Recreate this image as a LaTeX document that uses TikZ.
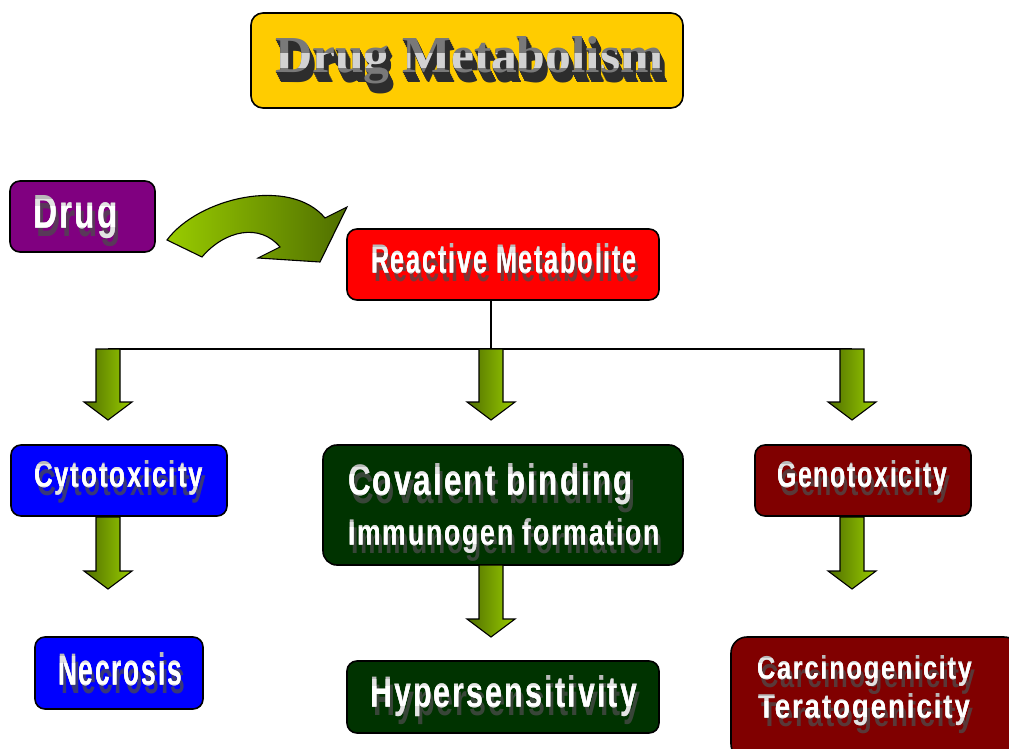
\documentclass[tikz,border=0pt]{standalone}
\usepackage{fontspec}
\setmainfont{Liberation Sans}
\newfontfamily\lblfont[LetterSpace=7]{Liberation Sans}
\newfontfamily\titlefont{Liberation Serif}
\usepackage{graphicx}
\usetikzlibrary{calc}
\definecolor{ttl}{HTML}{FFCC00}
\definecolor{purp}{HTML}{800080}
\definecolor{rred}{HTML}{FF0000}
\definecolor{bblue}{HTML}{0000FF}
\definecolor{dgreen}{HTML}{003300}
\definecolor{dred}{HTML}{800000}
\definecolor{gdark}{HTML}{4F6E00}
\definecolor{glight}{HTML}{99CC00}
\tikzset{
  box/.style={draw=black, line width=1.6pt, rounded corners=10pt, inner sep=0pt, outer sep=0pt},
  txt/.style={inner sep=0pt, outer sep=0pt, anchor=base west, font=\lblfont\bfseries},
  shad/.style={txt, text=black!70, text opacity=0.75},
  conn/.style={draw=black, line width=1.3pt},
  garrow/.style={draw=black, line width=1.1pt, left color=gdark, right color=glight},
  carrow/.style={draw=black, line width=1.1pt, left color=glight, right color=gdark},
}
% \lbl{name}{left x}{top y}{width}{height}{text}
\newcommand\lbl[6]{%
  \node[shad] (#1s) at ({#2+3},{#3+#5+8}) {\resizebox{#4pt}{#5pt}{#6}};
  \node[txt, text=gray!55] (#1) at (#2,{#3+#5}) {\resizebox{#4pt}{#5pt}{#6}};
  \begin{scope}
    \clip ({#2-5},{#3+0.15*#5}) rectangle ({#2+#4+5},{#3+1.4*#5});
    \node[txt, text=gray!22] (#1b) at (#2,{#3+#5}) {\resizebox{#4pt}{#5pt}{#6}};
  \end{scope}
  \begin{scope}
    \clip ({#2-5},{#3+0.35*#5}) rectangle ({#2+#4+5},{#3+0.95*#5});
    \node[txt, text=white] (#1c) at (#2,{#3+#5}) {\resizebox{#4pt}{#5pt}{#6}};
  \end{scope}
}
% \garr{x}{ytop}{ybottom}
\newcommand\garr[3]{%
  \path[garrow] ({#1-12},#2) -- ({#1+12},#2) -- ({#1+12},{#3-18}) -- ({#1+24},{#3-18})
    -- (#1,#3) -- ({#1-24},{#3-18}) -- ({#1-12},{#3-18}) -- cycle;
}
\begin{document}
\begin{tikzpicture}[x=1pt,y=-1pt]
\path[use as bounding box] (0,0) rectangle (1009,749);
\clip (0,0) rectangle (1009,749);

% boxes
\node[box, fill=ttl, minimum width=432pt, minimum height=95pt, rounded corners=12pt] (title) at (467,60.5) {};
\node[box, fill=purp, minimum width=145pt, minimum height=71pt] (drug) at (82.5,216.5) {};
\node[box, fill=rred, minimum width=312pt, minimum height=71pt] (rm) at (503,264.5) {};
\node[box, fill=bblue, minimum width=216pt, minimum height=71pt] (cyto) at (119,480.5) {};
\node[box, fill=dgreen, minimum width=360pt, minimum height=120pt, rounded corners=14pt] (cov) at (503,505) {};
\node[box, fill=dred, minimum width=216pt, minimum height=71pt] (geno) at (863,480.5) {};
\node[box, fill=bblue, minimum width=168pt, minimum height=72pt] (necro) at (119,673) {};
\node[box, fill=dgreen, minimum width=312pt, minimum height=72pt] (hyper) at (503,697) {};
\node[box, fill=dred, minimum width=289pt, minimum height=123pt, rounded corners=16pt] (carc) at (875.5,698.5) {};

% title text with extrusion
\foreach \k in {10,...,1}{
  \node[txt, font=\titlefont\bfseries, text=gray!35!black] (tl\k) at ({275+0.5*\k},{73+1.0*\k}) {\resizebox{388pt}{36pt}{Drug Metabolism}};
}
\node[txt, font=\titlefont\bfseries, text=gray!95!black] (titletxt) at (275,73) {\resizebox{388pt}{36pt}{Drug Metabolism}};
\begin{scope}
  \clip (260,{37+0.45*36}) rectangle (680,{37+0.85*36});
  \node[txt, font=\titlefont\bfseries, text=gray!35] (titlehl) at (275,73) {\resizebox{388pt}{36pt}{Drug Metabolism}};
\end{scope}

% connectors
\coordinate (bus) at (491,349);
\coordinate (busL) at (108,349);
\coordinate (busR) at (852,349);
\draw[conn] (rm.south -| bus) -- (bus);
\draw[conn] (busL) -- (busR);

% block arrows
\garr{108}{349}{420}
\garr{491}{349}{420}
\garr{852}{349}{420}
\garr{108}{517}{589}
\garr{491}{565}{637}
\garr{852}{517}{589}

% curved arrow from Drug to Reactive Metabolite
\path[carrow] (167,240) .. controls (198,198) and (290,176) .. (325,218)
  -- (347,207) -- (320,262) -- (258,258) -- (280,247)
  .. controls (260,223) and (225,230) .. (202,257) -- cycle;

% labels
\lbl{tdrug}{33}{195}{85}{33}{Drug}
\lbl{trm}{371}{243}{266}{30}{Reactive Metabolite}
\lbl{tcyto}{34}{460}{169}{27}{Cytotoxicity}
\lbl{tcov}{348}{463}{285}{32}{Covalent binding}
\lbl{timm}{348}{518}{312}{27}{Immunogen formation}
\lbl{tgeno}{777}{460}{170}{27}{Genotoxicity}
\lbl{tnec}{58}{652}{124}{33}{Necrosis}
\lbl{thyp}{370}{675}{267}{32}{Hypersensitivity}
\lbl{tcar}{757}{655}{215}{24}{Carcinogenicity}
\lbl{tter}{758}{693}{212}{25}{Teratogenicity}
\end{tikzpicture}
\end{document}
